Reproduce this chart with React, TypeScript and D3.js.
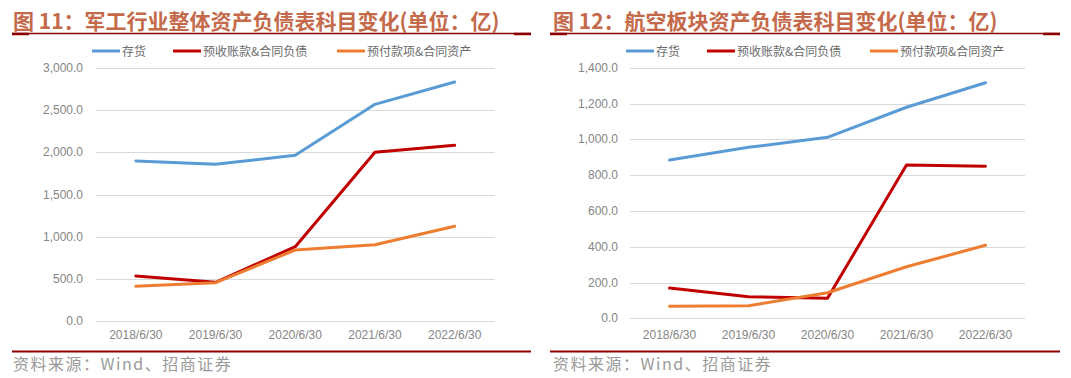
import React from "react";
import * as d3 from "d3";

const categories = ["2018/6/30", "2019/6/30", "2020/6/30", "2021/6/30", "2022/6/30"];
const seriesNames = ["存货", "预收账款&合同负债", "预付款项&合同资产"];
const seriesColors = ["#5B9BD5", "#C00000", "#ED7D31"];

// Chart 11: military industry overall
const mil_inventory = [1897, 1858, 1965, 2569, 2834];
const mil_advance = [534, 459, 881, 2000, 2083];
const mil_prepaid = [411, 455, 842, 905, 1123];
const milTicks = [0, 500, 1000, 1500, 2000, 2500, 3000];

// Chart 12: aviation sector
const avi_inventory = [884, 955, 1011, 1179, 1316];
const avi_advance = [169, 121, 112, 856, 849];
const avi_prepaid = [67, 70, 143, 288, 408];
const aviTicks = [0, 200, 400, 600, 800, 1000, 1200, 1400];

const titles = [
  "图 11：军工行业整体资产负债表科目变化(单位：亿)",
  "图 12：航空板块资产负债表科目变化(单位：亿)",
];
const sourceText = "资料来源：Wind、招商证券";

const fmt = d3.format(",.1f");
const SANS = "'Liberation Sans', Arial, 'Noto Sans CJK SC', sans-serif";
const CJK = "'Noto Sans CJK SC', 'Liberation Sans', sans-serif";

type PanelProps = {
  ox: number;
  title: string;
  series: number[][];
  ticks: number[];
  plotLeft: number;
  plotRight: number;
  y0: number;
  yTop: number;
  labelRight: number;
  legendX: number[];
  lineL: number;
  lineR: number;
};

function Panel(p: PanelProps) {
  const x = d3.scaleBand<string>().domain(categories).range([p.plotLeft, p.plotRight]);
  const yMax = p.ticks[p.ticks.length - 1];
  const y = d3.scaleLinear().domain([0, yMax]).range([p.y0, p.yTop]);
  const line = d3
    .line<number>()
    .x((_, i) => (x(categories[i]) as number) + x.bandwidth() / 2)
    .y((d) => y(d));
  const lineL = p.lineL;
  const lineR = p.lineR;
  return (
    <g>
      <text x={p.ox + 13} y={29} fontFamily={CJK} fontWeight={700} fontSize={21} fill="#C4694A">
        {p.title}
      </text>
      <line x1={lineL} x2={lineR} y1={33.5} y2={33.5} stroke="#8B0000" strokeWidth={1.5} />
      <line x1={lineL} x2={lineL + 17} y1={34} y2={34} stroke="#8B0000" strokeWidth={2.5} />
      <line x1={lineR - 17} x2={lineR} y1={34} y2={34} stroke="#8B0000" strokeWidth={2.5} />

      {seriesNames.map((n, i) => (
        <g key={n}>
          <line
            x1={p.legendX[i]}
            x2={p.legendX[i] + 28}
            y1={51}
            y2={51}
            stroke={seriesColors[i]}
            strokeWidth={3}
          />
          <text x={p.legendX[i] + 30} y={56} fontFamily={CJK} fontSize={12} fill="#6b6b6b">
            {n}
          </text>
        </g>
      ))}

      {p.ticks.map((t) => (
        <g key={t}>
          <line
            x1={p.plotLeft}
            x2={p.plotRight}
            y1={Math.round(y(t)) + 0.5}
            y2={Math.round(y(t)) + 0.5}
            stroke="#D9D9D9"
            strokeWidth={1}
          />
          <text
            x={p.labelRight}
            y={y(t) + 4}
            textAnchor="end"
            fontFamily={SANS}
            fontSize={12}
            fill="#858585"
          >
            {fmt(t)}
          </text>
        </g>
      ))}

      {categories.map((c) => (
        <text
          key={c}
          x={(x(c) as number) + x.bandwidth() / 2}
          y={339}
          textAnchor="middle"
          fontFamily={SANS}
          fontSize={12}
          fill="#858585"
        >
          {c}
        </text>
      ))}

      {p.series.map((s, i) => (
        <path
          key={i}
          d={line(s) as string}
          fill="none"
          stroke={seriesColors[i]}
          strokeWidth={3}
          strokeLinejoin="round"
          strokeLinecap="round"
        />
      ))}

      <line x1={lineL} x2={lineR} y1={351.5} y2={351.5} stroke="#8B0000" strokeWidth={2} />
      <text
        x={p.ox + 13}
        y={370}
        fontFamily={CJK}
        fontSize={16}
        letterSpacing={1.5}
        fill="#9a9a9a"
      >
        {sourceText}
      </text>
    </g>
  );
}

export default function App() {
  return (
    <svg
      width={1071}
      height={378}
      style={{ position: "absolute", left: 0, top: 0, background: "#fff" }}
    >
      <rect width={1071} height={378} fill="#fff" />
      <Panel
        ox={0}
        title={titles[0]}
        series={[mil_inventory, mil_advance, mil_prepaid]}
        ticks={milTicks}
        plotLeft={96}
        plotRight={494.5}
        y0={321}
        yTop={68}
        labelRight={83}
        legendX={[92, 173, 337]}
        lineL={12}
        lineR={531}
      />
      <Panel
        ox={540}
        title={titles[1]}
        series={[avi_inventory, avi_advance, avi_prepaid]}
        ticks={aviTicks}
        plotLeft={630}
        plotRight={1025}
        y0={318.3}
        yTop={67.7}
        labelRight={618}
        legendX={[626, 707, 870]}
        lineL={550}
        lineR={1060}
      />
    </svg>
  );
}
